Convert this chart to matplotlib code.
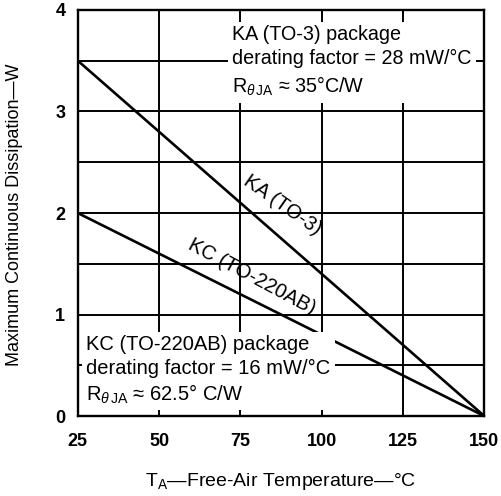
import matplotlib
matplotlib.use("Agg")
import matplotlib.pyplot as plt
import numpy as np

plt.rcParams['font.family'] = ['Liberation Sans', 'DejaVu Sans']
plt.rcParams['mathtext.fontset'] = 'custom'
plt.rcParams['mathtext.rm'] = 'Liberation Sans'
plt.rcParams['mathtext.it'] = 'Liberation Sans:italic'

# Data
temps = [25, 150]
ka_power = [3.5, 0.0]   # KA (TO-3)
kc_power = [2.0, 0.0]   # KC (TO-220AB)
xticks = [25, 50, 75, 100, 125, 150]
yticks = [0, 1, 2, 3, 4]
ygrid = [0.5, 1, 1.5, 2, 2.5, 3, 3.5]

fig = plt.figure(figsize=(5.02, 4.96), dpi=100)
ax = fig.add_axes([0.155, 0.161, 0.81, 0.819])
ax.set_xlim(25, 150)
ax.set_ylim(0, 4)

for x in xticks[1:-1]:
    ax.axvline(x, color='black', lw=1.4, zorder=1)
for y in ygrid:
    ax.axhline(y, color='black', lw=1.4, zorder=1)

ax.plot(temps, ka_power, color='black', lw=1.9, zorder=3)
ax.plot(temps, kc_power, color='black', lw=1.9, zorder=3)

for s in ax.spines.values():
    s.set_linewidth(1.7)

ax.set_xticks(xticks)
ax.set_yticks(yticks)
ax.tick_params(length=0, labelsize=13)
ax.tick_params(axis='x', pad=12)
ax.tick_params(axis='y', pad=9)
for lab in ax.get_xticklabels() + ax.get_yticklabels():
    lab.set_fontweight('bold')

ax.set_xlabel('T$_\\mathregular{A}$\u2014Free-Air Temperature\u2014°C', fontsize=14, labelpad=15)
ax.set_ylabel('Maximum Continuous Dissipation\u2014W', fontsize=13)
ax.yaxis.set_label_coords(-0.135, 0.495)

ax.text(87.8, 2.08, 'KA (TO-3)', rotation=-35, rotation_mode='anchor',
        ha='center', va='center', fontsize=14.5, zorder=4)
ax.text(78.5, 1.37, 'KC (TO-220AB)', rotation=-28, rotation_mode='anchor',
        ha='center', va='center', fontsize=14.5, zorder=4)

ka_txt = 'KA (TO-3) package\nderating factor = 28 mW/°C\nR$_{\\theta\\,\\mathregular{JA}}$ \u2248 35°C/W'
kc_txt = 'KC (TO-220AB) package\nderating factor = 16 mW/°C\nR$_{\\theta\\,\\mathregular{JA}}$ \u2248 62.5° C/W'
ax.text(0.38, 0.964, ka_txt, transform=ax.transAxes, ha='left', va='top', fontsize=14.2,
        linespacing=1.38, zorder=5,
        bbox=dict(facecolor='white', edgecolor='none', pad=3))
ax.text(0.021, 0.199, kc_txt, transform=ax.transAxes, ha='left', va='top', fontsize=14.5,
        linespacing=1.28, zorder=5,
        bbox=dict(facecolor='white', edgecolor='none', pad=3))

fig.savefig('out.png', dpi=100)
